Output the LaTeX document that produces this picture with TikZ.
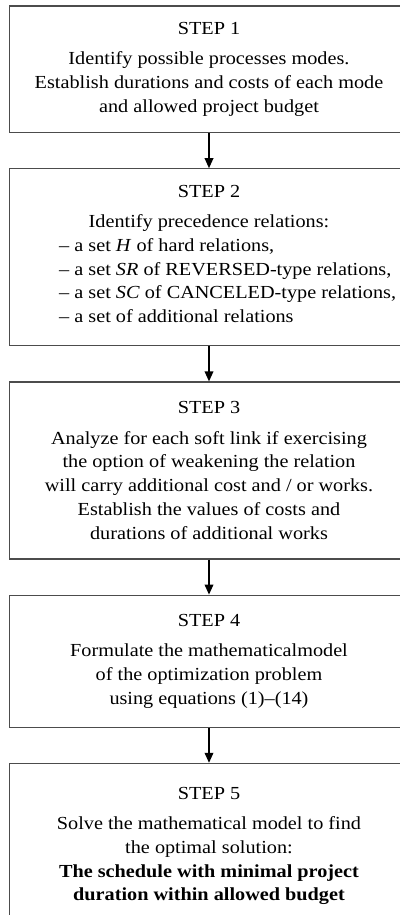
\documentclass[tikz,border=0pt]{standalone}
\usepackage{fontspec}
\setmainfont{Liberation Serif}[FakeStretch=1.1]
\usetikzlibrary{arrows.meta,positioning}

\begin{document}
\begin{tikzpicture}[ > = {Triangle[length=7.5pt,width=6.5pt]}, stepbox/.style = {draw=black!70, line width=0.9pt, minimum width=299.25pt, inner sep=0pt, align=center, text=black, font=\fontsize{13.8}{17.8}\selectfont}, flow/.style = {line width=1pt, ->}, node distance = 26.25pt]

    \useasboundingbox (0,0) rectangle (300pt,-686.25pt);

    % steps
    \node[stepbox, minimum height=94.9pt, anchor=north] (s1) at (156.75pt,-4.1pt) {STEP 1\\[5pt]
        Identify possible processes modes.\\
        Establish durations and costs of each mode\\
        and allowed project budget};
    \node[stepbox, minimum height=132.75pt, below=of s1] (s2) {STEP 2\\[5pt]
        Identify precedence relations:\\
        \hspace*{28pt}\begin{tabular}[t]{@{}l@{}}
        -- a set \textit{H} of hard relations,\\
        -- a set \textit{SR} of REVERSED-type relations,\\
        -- a set \textit{SC} of CANCELED-type relations,\\
        -- a set of additional relations
        \end{tabular}};
    \node[stepbox, minimum height=132.75pt, below=of s2] (s3) {STEP 3\\[5pt]
        Analyze for each soft link if exercising\\
        the option of weakening the relation\\
        will carry additional cost and / or works.\\
        Establish the values of costs and\\
        durations of additional works};
    \node[stepbox, minimum height=99pt, below=of s3] (s4) {STEP 4\\[5pt]
        Formulate the mathematicalmodel\\
        of the optimization problem\\
        using equations (1)--(14)};
    \node[stepbox, minimum height=124pt, below=of s4] (s5) {STEP 5\\[5pt]
        Solve the mathematical model to find\\
        the optimal solution:\\
        \textbf{The schedule with minimal project}\\
        \textbf{duration within allowed budget}};

    % arrows
    \draw[flow] (s1) -- (s2);
    \draw[flow] (s2) -- (s3);
    \draw[flow] (s3) -- (s4);
    \draw[flow] (s4) -- (s5);

\end{tikzpicture}
\end{document}
